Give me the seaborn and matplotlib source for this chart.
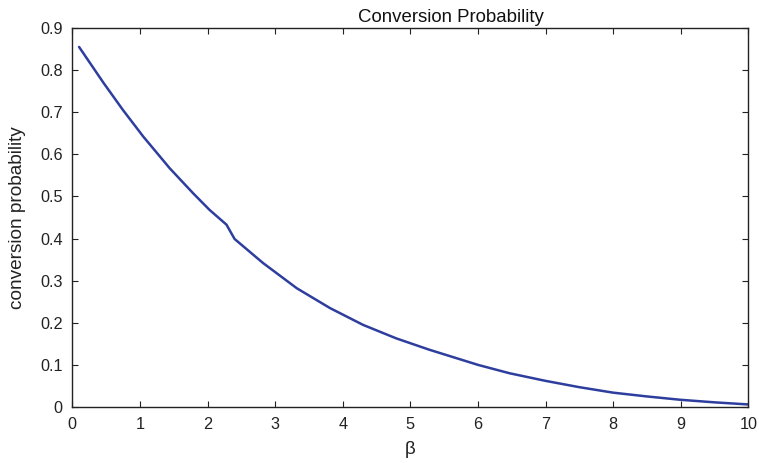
import matplotlib
matplotlib.use("Agg")
import matplotlib.pyplot as plt
import seaborn as sns
import pandas as pd

beta = [0.10, 0.46, 0.75, 1.05, 1.30, 1.44, 1.79, 2.03, 2.28, 2.40, 2.82,
        3.32, 3.81, 4.30, 4.79, 5.28, 6.00, 6.47, 7.00, 7.50, 8.00, 8.50,
        9.00, 9.50, 10.00]
prob = [0.855, 0.770, 0.705, 0.642, 0.594, 0.567, 0.507, 0.468, 0.433, 0.399,
        0.342, 0.282, 0.235, 0.195, 0.163, 0.136, 0.100, 0.080, 0.062, 0.047,
        0.034, 0.025, 0.017, 0.011, 0.006]
xticks = [0, 1, 2, 3, 4, 5, 6, 7, 8, 9, 10]
yticks = [0, 0.1, 0.2, 0.3, 0.4, 0.5, 0.6, 0.7, 0.8, 0.9]
ytick_labels = ["0", "0.1", "0.2", "0.3", "0.4", "0.5", "0.6", "0.7", "0.8", "0.9"]

sns.set_style("ticks")
plt.rcParams['font.family'] = ['Liberation Sans', 'DejaVu Sans']

df = pd.DataFrame({"beta": beta, "prob": prob})

fig = plt.figure(figsize=(7.59, 4.63), dpi=100)
ax = fig.add_axes([0.0953, 0.121, 0.8907, 0.8185])
sns.lineplot(data=df, x="beta", y="prob", ax=ax, color="#2e3e9e", linewidth=1.8)
ax.lines[0].set_solid_joinstyle("round")

ax.set_xlim(0, 10)
ax.set_ylim(0, 0.9)
ax.set_xticks(xticks)
ax.set_xticklabels([str(t) for t in xticks])
ax.set_yticks(yticks)
ax.set_yticklabels(ytick_labels)
ax.tick_params(direction="in", length=4, width=0.8, top=True, right=True,
               labelsize=11.7, colors="#222222", labelcolor="#222222", pad=7)
for s in ax.spines.values():
    s.set_linewidth(1.0)
    s.set_color("#222222")
    s.set_visible(True)

ax.text(0.56, 1.0158, "Conversion Probability", transform=ax.transAxes,
        ha="center", va="baseline", fontsize=13.4, color="#111111")
ax.set_xlabel("β", fontsize=13.5, labelpad=7, color="#222222")
ax.set_ylabel("conversion probability", fontsize=13.7, color="#222222")
ax.yaxis.set_label_coords(-0.0684, 0.5)

fig.savefig("out.png", dpi=100)
